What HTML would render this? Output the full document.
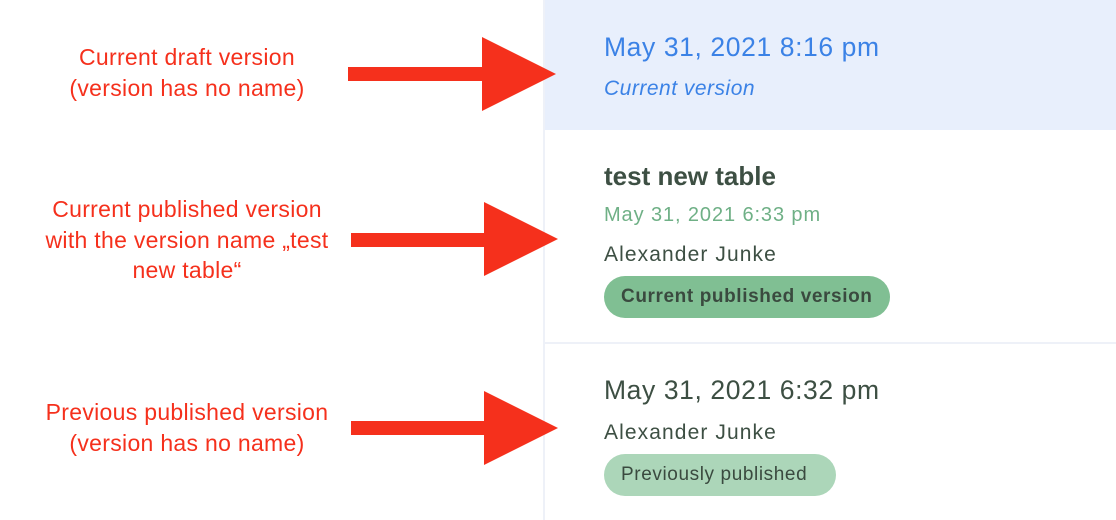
<!DOCTYPE html>
<html><head><meta charset="utf-8"><style>
body{margin:0;width:1116px;height:520px;background:#fff;position:relative;overflow:hidden;font-family:"Liberation Sans",sans-serif}
.a{position:absolute;white-space:nowrap}
.lab{position:absolute;color:#f5301c;font-size:23px;letter-spacing:0.3px;text-align:center;width:380px;left:-3px;line-height:30.5px}
.panel{position:absolute;left:543px;top:0;width:573px;height:520px;border-left:2px solid #eef1f8}
.t{color:#3d4f43}
.pill{position:absolute;border-radius:21px;height:42px;line-height:42px;font-size:19px;letter-spacing:0.6px;color:#3a4a3f;padding-left:17px;box-sizing:border-box}
</style></head><body>
<div class="panel">
<div class="a" style="left:0;top:0;width:573px;height:130px;background:#e8effc"></div>
<div class="a" style="left:0;top:342px;width:573px;height:2px;background:#eef1f8"></div>
</div>
<div class="lab" style="top:42px">Current draft version<br>(version has no name)</div>
<div class="lab" style="top:194px">Current published version<br>with the version name „test<br>new table“</div>
<div class="lab" style="top:397px">Previous published version<br>(version has no name)</div>
<svg class="a" style="left:0;top:0" width="1116" height="520">
<g fill="#f5301c">
<rect x="348" y="67" width="136" height="14"/><polygon points="482,37 556,74 482,111"/>
<rect x="351" y="233" width="135" height="14"/><polygon points="484,202 558,239 484,276"/>
<rect x="351" y="421" width="135" height="14"/><polygon points="484,391 558,428 484,465"/>
</g></svg>
<div class="a" style="left:604px;top:32px;font-size:26.5px;letter-spacing:0.6px;color:#3b82e6">May 31, 2021 8:16 pm</div>
<div class="a" style="left:604px;top:77px;font-size:21px;letter-spacing:0.5px;font-style:italic;color:#3b82e6">Current version</div>
<div class="a t" style="left:604px;top:161px;font-size:26px;font-weight:bold">test new table</div>
<div class="a" style="left:604px;top:204px;font-size:20px;letter-spacing:0.9px;color:#6fb086">May 31, 2021 6:33 pm</div>
<div class="a t" style="left:604px;top:243px;font-size:21px;letter-spacing:1.1px">Alexander Junke</div>
<div class="pill" style="left:604px;top:276px;width:286px;background:#80bf93;font-weight:bold">Current published version</div>
<div class="a t" style="left:604px;top:375px;font-size:26.5px;letter-spacing:0.6px">May 31, 2021 6:32 pm</div>
<div class="a t" style="left:604px;top:421px;font-size:21px;letter-spacing:1.1px">Alexander Junke</div>
<div class="pill" style="left:604px;top:454px;width:232px;background:#acd6b9">Previously published</div>
</body></html>
